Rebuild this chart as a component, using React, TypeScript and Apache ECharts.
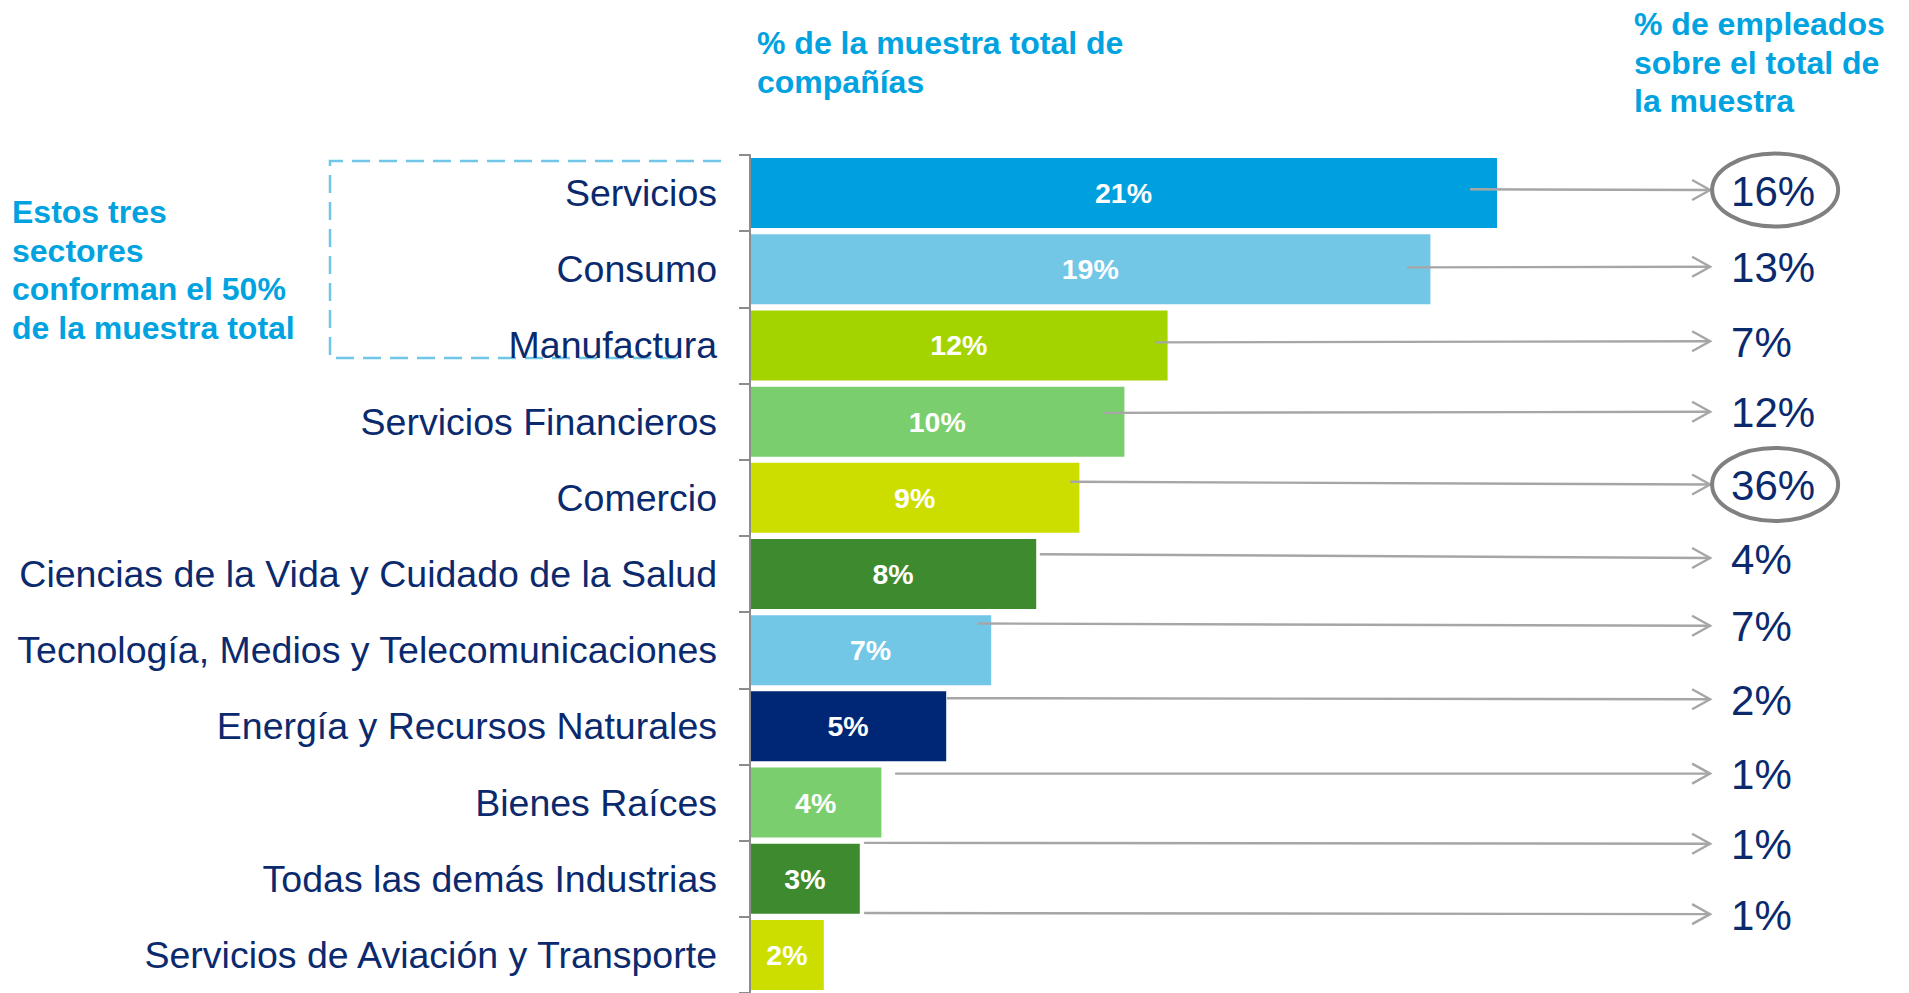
import React, { useEffect, useRef } from 'react';
import * as echarts from 'echarts';

// Sectors (top to bottom)
const sectors = [
  'Servicios',
  'Consumo',
  'Manufactura',
  'Servicios Financieros',
  'Comercio',
  'Ciencias de la Vida y Cuidado de la Salud',
  'Tecnología, Medios y Telecomunicaciones',
  'Energía y Recursos Naturales',
  'Bienes Raíces',
  'Todas las demás Industrias',
  'Servicios de Aviación y Transporte',
];

// % of total sample of companies (bar lengths, label rounded)
const companyShare = [20.75, 18.9, 11.6, 10.4, 9.15, 7.95, 6.7, 5.45, 3.65, 3.05, 2.05];

// % of employees over total sample (right column)
const employeeShare = [16, 13, 7, 12, 36, 4, 7, 2, 1, 1, 1];
const employeeCircled = [1, 0, 0, 0, 1, 0, 0, 0, 0, 0, 0];

const barColors = [
  '#00a0df',
  '#72c6e6',
  '#a4d400',
  '#7ace6e',
  '#ccde00',
  '#3e8a2f',
  '#72c6e6',
  '#002776',
  '#7ace6e',
  '#3e8a2f',
  '#ccde00',
];

// Connector arrows: start (in % units), start row / end row (in category units)
const arrowStart = [20.0, 18.25, 11.25, 9.8, 8.9, 8.05, 6.33, 5.47, 4.03, 3.17, 3.17];
const arrowStartRow = [-0.05, 0.975, 1.96, 2.885, 3.79, 4.74, 5.65, 6.63, 7.62, 8.53, 9.45];
const arrowEndRow = [-0.04, 0.966, 1.945, 2.87, 3.825, 4.79, 5.68, 6.645, 7.62, 8.54, 9.465];
const ARROW_TIP = 26.67;

const headerCompanies = '% de la muestra total de\ncompañías';
const headerEmployees = '% de empleados\nsobre el total de\nla muestra';
const noteText = 'Estos tres\nsectores\nconforman el 50%\nde la muestra total';

const FONT = '"Liberation Sans", Arial, Helvetica, sans-serif';
const NAVY = '#0b2a6e';
const BLUE = '#00a3e0';

export default function App() {
  const ref = useRef<HTMLDivElement>(null);

  useEffect(() => {
    if (!ref.current) return;
    const chart = echarts.init(ref.current, undefined, { renderer: 'svg' });

    const arrowData = sectors.map((_, i) => [
      arrowStart[i],
      arrowStartRow[i],
      arrowEndRow[i],
      employeeShare[i],
      employeeCircled[i],
    ]);

    chart.setOption({
      animation: false,
      backgroundColor: '#ffffff',
      grid: { left: 750, top: 155, width: 1080, height: 843, containLabel: false },
      xAxis: [{ type: 'value', min: 0, max: 30, show: false }],
      yAxis: [
        {
          type: 'category',
          data: sectors,
          inverse: true,
          z: 5,
          axisLine: { show: true, lineStyle: { color: '#8c8c8c', width: 2 } },
          axisTick: { show: true, length: 11, lineStyle: { color: '#8c8c8c', width: 2 } },
          axisLabel: {
            color: NAVY,
            fontSize: 37.5,
            fontFamily: FONT,
            margin: 33,
          },
          splitLine: { show: false },
        },
        { type: 'value', min: -0.5, max: 10.5, inverse: true, show: false },
      ],
      graphic: [
        {
          type: 'polyline',
          z: 1,
          shape: { points: [[721, 161], [330, 161], [330, 358], [686, 358]] },
          style: { stroke: '#71c5e6', lineWidth: 2.5, lineDash: [18, 9], fill: 'none' },
        },
        {
          type: 'text',
          x: 757,
          y: 23,
          style: {
            text: headerCompanies,
            font: `bold 32px ${FONT}`,
            fill: BLUE,
            lineHeight: 39,
            textVerticalAlign: 'top',
            verticalAlign: 'top',
          },
        },
        {
          type: 'text',
          x: 1634,
          y: 5,
          style: {
            text: headerEmployees,
            font: `bold 32px ${FONT}`,
            fill: BLUE,
            lineHeight: 38.5,
            textVerticalAlign: 'top',
            verticalAlign: 'top',
          },
        },
        {
          type: 'text',
          x: 12,
          y: 193,
          style: {
            text: noteText,
            font: `bold 32px ${FONT}`,
            fill: BLUE,
            lineHeight: 38.5,
            textVerticalAlign: 'top',
            verticalAlign: 'top',
          },
        },
      ],
      series: [
        {
          type: 'bar',
          xAxisIndex: 0,
          yAxisIndex: 0,
          barWidth: 70,
          data: companyShare.map((v, i) => ({ value: v, itemStyle: { color: barColors[i] } })),
          label: {
            show: true,
            position: 'inside',
            formatter: (p: any) => `${Math.round(p.value)}%`,
            color: '#ffffff',
            fontSize: 28.5,
            fontWeight: 'bold',
            fontFamily: FONT,
          },
        },
        {
          type: 'custom',
          xAxisIndex: 0,
          yAxisIndex: 1,
          clip: false,
          z: 4,
          data: arrowData,
          renderItem: (params: any, api: any) => {
            const s = api.coord([api.value(0), api.value(1)]);
            const e = api.coord([ARROW_TIP, api.value(2)]);
            const val = api.value(3);
            const circled = api.value(4);
            const children: any[] = [
              {
                type: 'line',
                shape: { x1: s[0], y1: s[1], x2: e[0], y2: e[1] },
                style: { stroke: '#a6a6a6', lineWidth: 2.4 },
              },
              {
                type: 'polyline',
                shape: {
                  points: [
                    [e[0] - 18, e[1] - 10],
                    [e[0], e[1]],
                    [e[0] - 18, e[1] + 10],
                  ],
                },
                style: { stroke: '#a6a6a6', lineWidth: 2.4, fill: 'none' },
              },
              {
                type: 'text',
                style: {
                  text: `${val}%`,
                  x: e[0] + 21,
                  y: e[1] + 1,
                  font: `42px ${FONT}`,
                  fill: NAVY,
                  textAlign: 'left',
                  textVerticalAlign: 'middle',
                  align: 'left',
                  verticalAlign: 'middle',
                },
              },
            ];
            if (circled) {
              children.push({
                type: 'ellipse',
                shape: { cx: e[0] + 65, cy: e[1], rx: 63, ry: 36.5 },
                style: { stroke: '#808080', lineWidth: 4, fill: 'none' },
              });
            }
            return { type: 'group', children };
          },
        },
      ],
    });

    return () => chart.dispose();
  }, []);

  return (
    <div
      ref={ref}
      style={{ position: 'absolute', left: 0, top: 0, width: 1909, height: 993, background: '#fff' }}
    />
  );
}
